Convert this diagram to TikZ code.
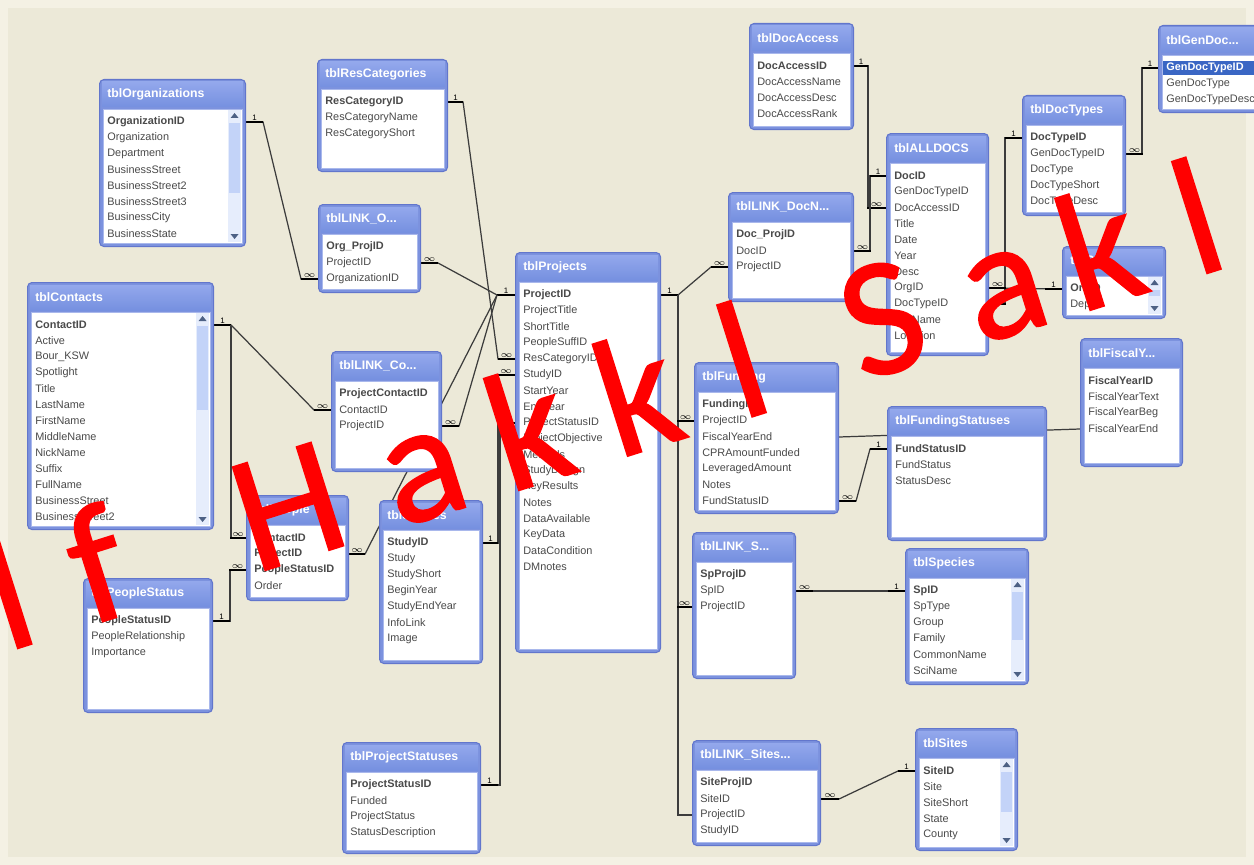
\documentclass[tikz,border=0pt]{standalone}
\usepackage{fontspec}
\setmainfont{Liberation Sans}
\newfontfamily\wmfont[FakeBold=1]{Carlito}
\usetikzlibrary{calc}
\pgfdeclarelayer{back}
\pgfdeclarelayer{bg}
\pgfdeclarelayer{fg}
\pgfsetlayers{back,bg,main,fg}

\definecolor{paperc}{HTML}{ECE9D8}
\definecolor{paperedge}{HTML}{F4F1E4}
\definecolor{tblue}{HTML}{7C92DE}
\definecolor{tedge}{HTML}{6276CC}
\definecolor{ttop}{HTML}{93A8EC}
\definecolor{tbot}{HTML}{7690E0}
\definecolor{tinner}{HTML}{A9B8EC}
\definecolor{fieldc}{HTML}{4A4A4A}
\definecolor{relc}{HTML}{3C3C3C}
\definecolor{scrtrack}{HTML}{E6EDFC}
\definecolor{scrthumb}{HTML}{C3D3F8}
\definecolor{scrarrow}{HTML}{4D6185}
\definecolor{selc}{HTML}{3A66C4}
\definecolor{wmred}{HTML}{FF0000}

\tikzset{
  tblframe/.style={draw=tedge, fill=tblue, rounded corners=2.5pt, line width=0.6pt,
    anchor=north west, inner sep=0pt},
  ttext/.style={anchor=west, inner sep=0pt, text=white, font=\fontsize{7}{8}\selectfont\bfseries},
  ftext/.style={anchor=west, inner sep=0pt, text=fieldc, font=\fontsize{6.2}{7}\selectfont},
  rel/.style={draw=relc, line width=0.7pt},
  stub/.style={draw=black, line width=1.5pt},
  lbl/.style={above=0.3pt, inner sep=0pt, text=black, font=\fontsize{4.5}{5}\selectfont},
  wmark/.style={anchor=base west, inner sep=0pt, rotate=17.5, text=wmred,
    font=\wmfont\fontsize{96}{96}\selectfont}
}

% one Access table: name, top left, width, height, title, fields
\newcommand{\acctable}[6]{%
  \node[tblframe, minimum width=#3*0.02cm, minimum height=#4*0.02cm] (#1) at (#2) {};
  \shade[top color=ttop, bottom color=tbot] ($(#1.north west)+(3,3)$) rectangle ($(#1.north east)+(-3,28)$);
  \filldraw[fill=white, draw=tinner] ($(#1.north west)+(4,30)$) rectangle ($(#1.south east)+(-4,-4)$);
  \node[ttext] (#1-t) at ($(#1.north west)+(8,15)$) {#5};
  \foreach \fld [count=\i] in {#6}
    \node[ftext] (#1-\i) at ($(#1.north west)+(8,27+16*\i)$) {\fld};
}
% scroll bar: name, thumb end below top
\newcommand{\vscroll}[2]{%
  \fill[scrtrack] ($(#1.north east)+(-18,31)$) rectangle ($(#1.south east)+(-5,-5)$);
  \fill[scrthumb] ($(#1.north east)+(-17,44)$) rectangle ($(#1.north east)+(-6,#2)$);
  \fill[scrarrow] ($(#1.north east)+(-11.5,34)$) -- ++(-4,5) -- ++(8,0) -- cycle;
  \fill[scrarrow] ($(#1.south east)+(-11.5,-8)$) -- ++(-4,-5) -- ++(8,0) -- cycle;
}
\newcommand{\onestub}[2]{\draw[stub] (#1) -- ++(#2,0) node[lbl,midway]{1};}
\newcommand{\manystub}[2]{\draw[stub] (#1) -- ++(#2,0) node[lbl,midway]{$\infty$};}

\begin{document}
\begin{tikzpicture}[x=0.02cm, y=-0.02cm]
\useasboundingbox (0,0) rectangle (1254,865);
\begin{pgfonlayer}{back}
  \fill[paperedge] (0,0) rectangle (1254,865);
  \fill[paperc] (8,8) rectangle (1246,857);
\end{pgfonlayer}

% tables %
\acctable{org}{99,79}{146}{167}{tblOrganizations}{\textbf{OrganizationID},Organization,Department,BusinessStreet,BusinessStreet2,BusinessStreet3,BusinessCity,BusinessState}
\vscroll{org}{114}
\acctable{rescat}{317,59}{130}{112}{tblResCategories}{\textbf{ResCategoryID},ResCategoryName,ResCategoryShort}
\acctable{lnkorg}{318,204}{102}{88}{tblLINK\_O...}{\textbf{Org\_ProjID},ProjectID,OrganizationID}
\acctable{contacts}{27,282}{186}{247}{tblContacts}{\textbf{ContactID},Active,Bour\_KSW,Spotlight,Title,LastName,FirstName,MiddleName,NickName,Suffix,FullName,BusinessStreet,BusinessStreet2}
\vscroll{contacts}{128}
\acctable{lnkcon}{331,351}{110}{120}{tblLINK\_Co...}{\textbf{ProjectContactID},ContactID,ProjectID}
\acctable{proj}{515,252}{145}{400}{tblProjects}{\textbf{ProjectID},ProjectTitle,ShortTitle,PeopleSuffID,ResCategoryID,StudyID,StartYear,EndYear,ProjectStatusID,ProjectObjective,Methods,StudyDesign,KeyResults,Notes,DataAvailable,KeyData,DataCondition,DMnotes}
\acctable{pstatus}{83,578}{129}{134}{tblPeopleStatus}{\textbf{PeopleStatusID},PeopleRelationship,Importance}
\acctable{people}{246,495}{102}{105}{tblPeople}{\textbf{ContactID},\textbf{ProjectID},\textbf{PeopleStatusID},Order}
\acctable{studies}{379,500}{103}{163}{tblStudies}{\textbf{StudyID},Study,StudyShort,BeginYear,StudyEndYear,InfoLink,Image}
\acctable{prstat}{342,742}{138}{111}{tblProjectStatuses}{\textbf{ProjectStatusID},Funded,ProjectStatus,StatusDescription}
\acctable{docacc}{749,23}{104}{106}{tblDocAccess}{\textbf{DocAccessID},DocAccessName,DocAccessDesc,DocAccessRank}
\acctable{lnkdoc}{728,192}{125}{109}{tblLINK\_DocN...}{\textbf{Doc\_ProjID},DocID,ProjectID}
\acctable{alldocs}{886,133}{102}{222}{tblALLDOCS}{\textbf{DocID},GenDocTypeID,DocAccessID,Title,Date,Year,Desc,OrgID,DocTypeID,FileName,Location}
\acctable{doctypes}{1022,95}{103}{120}{tblDocTypes}{\textbf{DocTypeID},GenDocTypeID,DocType,DocTypeShort,DocTypeDesc}
\acctable{gendoc}{1158,25}{112}{87}{tblGenDoc...}{\textbf{GenDocTypeID},GenDocType,GenDocTypeDesc}
\fill[selc] ($(gendoc.north west)+(5,36)$) rectangle ($(gendoc.north east)+(-5,50)$);
\node[ftext, text=white] (gensel) at (gendoc-1.west) {\textbf{GenDocTypeID}};
\acctable{orgsm}{1062,246}{103}{72}{tblOrg}{\textbf{OrgID},Dept}
\vscroll{orgsm}{50}
\acctable{fiscal}{1080,338}{102}{128}{tblFiscalY...}{\textbf{FiscalYearID},FiscalYearText,FiscalYearBeg,FiscalYearEnd}
\acctable{fund}{694,362}{144}{151}{tblFunding}{\textbf{FundingID},ProjectID,FiscalYearEnd,CPRAmountFunded,LeveragedAmount,Notes,FundStatusID}
\acctable{fstat}{887,406}{159}{134}{tblFundingStatuses}{\textbf{FundStatusID},FundStatus,StatusDesc}
\acctable{lnksp}{692,532}{103}{146}{tblLINK\_S...}{\textbf{SpProjID},SpID,ProjectID}
\acctable{species}{905,548}{123}{136}{tblSpecies}{\textbf{SpID},SpType,Group,Family,CommonName,SciName}
\vscroll{species}{92}
\acctable{lnksite}{692,740}{128}{105}{tblLINK\_Sites...}{\textbf{SiteProjID},SiteID,ProjectID,StudyID}
\acctable{sites}{915,728}{102}{122}{tblSites}{\textbf{SiteID},Site,SiteShort,State,County}
\vscroll{sites}{84}

% relationships %
\begin{pgfonlayer}{bg}
\coordinate (hub) at ($(proj.west |- proj-1)+(-18,0)$);
\draw[rel] (org.east |- org-1) -- ++(17,0) -- ($(lnkorg.west |- lnkorg-3)+(-17,0)$) -- (lnkorg.west |- lnkorg-3);
\onestub{org.east |- org-1}{17}
\manystub{lnkorg.west |- lnkorg-3}{-17}
\draw[rel] (rescat.east |- rescat-1) -- ++(15,0) -- ($(proj.west |- proj-5)+(-17,0)$) -- (proj.west |- proj-5);
\onestub{rescat.east |- rescat-1}{15}
\manystub{proj.west |- proj-5}{-17}
\draw[rel] (lnkorg.east |- lnkorg-2) -- ++(17,0) -- (hub) -- (proj.west |- proj-1);
\manystub{lnkorg.east |- lnkorg-2}{17}
\onestub{proj.west |- proj-1}{-18}
\draw[rel] (lnkcon.east |- lnkcon-3) -- ++(17,0) -- (hub);
\manystub{lnkcon.east |- lnkcon-3}{17}
\draw[rel] (people.east |- people-2) -- ++(16,0) -- (hub);
\manystub{people.east |- people-2}{16}
\draw[rel] (contacts.east |- contacts-1) -- ++(17,0) coordinate (ct) -- ($(lnkcon.west |- lnkcon-2)+(-17,0)$) -- (lnkcon.west |- lnkcon-2);
\onestub{contacts.east |- contacts-1}{17}
\manystub{lnkcon.west |- lnkcon-2}{-17}
\draw[rel] (ct) |- (people.west |- people-1);
\manystub{people.west |- people-1}{-16}
\draw[rel] (pstatus.east |- pstatus-1) -- ++(17,0) |- (people.west |- people-3);
\onestub{pstatus.east |- pstatus-1}{17}
\manystub{people.west |- people-3}{-17}
\draw[rel] (studies.east |- studies-1) -- ++(15,0) |- (proj.west |- proj-6);
\onestub{studies.east |- studies-1}{15}
\manystub{proj.west |- proj-6}{-18}
\draw[rel] (prstat.east |- prstat-1) -- ++(19,0) |- (proj.west |- proj-9);
\onestub{prstat.east |- prstat-1}{17}
\manystub{proj.west |- proj-9}{-16}
\draw[rel] (proj.east |- proj-1) -- ++(17,0) coordinate (pr) -- ($(lnkdoc.west |- lnkdoc-3)+(-17,0)$) -- (lnkdoc.west |- lnkdoc-3);
\onestub{proj.east |- proj-1}{17}
\manystub{lnkdoc.west |- lnkdoc-3}{-17}
\draw[rel] (pr) |- (fund.west |- fund-2);
\draw[rel] (pr) |- (lnksp.west |- lnksp-3);
\draw[rel] (pr) |- (lnksite.west |- lnksite-3);
\manystub{fund.west |- fund-2}{-17}
\manystub{lnksp.west |- lnksp-3}{-15}
\draw[rel] (docacc.east |- docacc-1) -- ++(14,0) |- (alldocs.west |- alldocs-3);
\onestub{docacc.east |- docacc-1}{14}
\manystub{alldocs.west |- alldocs-3}{-19}
\draw[rel] (alldocs.west |- alldocs-1) -- ++(-16,0) |- (lnkdoc.east |- lnkdoc-2);
\onestub{alldocs.west |- alldocs-1}{-16}
\manystub{lnkdoc.east |- lnkdoc-2}{17}
\draw[rel] (doctypes.west |- doctypes-1) -- ++(-17,0) |- (alldocs.east |- alldocs-9);
\onestub{doctypes.west |- doctypes-1}{-17}
\manystub{alldocs.east |- alldocs-9}{17}
\draw[rel] (alldocs.east |- alldocs-8) -- (orgsm.west |- orgsm-1);
\manystub{alldocs.east |- alldocs-8}{17}
\onestub{orgsm.west |- orgsm-1}{-17}
\draw[rel] (gendoc.west |- gendoc-1) -- ++(-16,0) |- (doctypes.east |- doctypes-2);
\onestub{gendoc.west |- gendoc-1}{-16}
\manystub{doctypes.east |- doctypes-2}{17}
\draw[rel] (fund.east |- fund-7) -- ++(17,0) -- ($(fstat.west |- fstat-1)+(-17,0)$) -- (fstat.west |- fstat-1);
\manystub{fund.east |- fund-7}{17}
\onestub{fstat.west |- fstat-1}{-17}
\draw[rel] (fund.east |- fund-3) -- (fiscal.west |- fiscal-4);
\draw[rel] (lnksp.east |- lnksp-2) -- (species.west |- species-1);
\manystub{lnksp.east |- lnksp-2}{17}
\onestub{species.west |- species-1}{-17}
\draw[rel] (lnksite.east |- lnksite-2) -- ++(18,0) -- ($(sites.west |- sites-1)+(-17,0)$) -- (sites.west |- sites-1);
\manystub{lnksite.east |- lnksite-2}{18}
\onestub{sites.west |- sites-1}{-17}
\end{pgfonlayer}

% watermark %
\begin{pgfonlayer}{fg}
\foreach \letter/\pos in {l/-539, f/-452, H/-279, a/-128, k/-12, k/102, l/231, S/358, a/481, k/587, l/708}
  \node[wmark] (wm\pos) at ({520+0.9537*\pos},{490-0.3007*\pos}) {\letter};
\end{pgfonlayer}
\end{tikzpicture}
\end{document}
